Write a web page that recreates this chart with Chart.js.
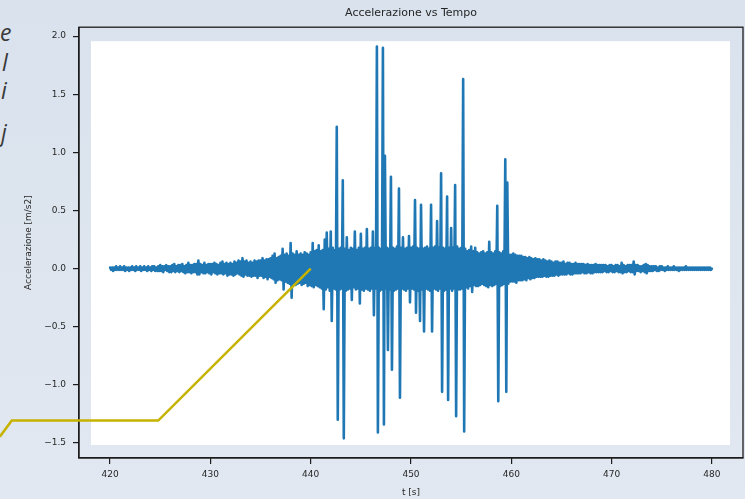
<!DOCTYPE html>
<html>
<head>
<meta charset="utf-8">
<script src="https://cdn.jsdelivr.net/npm/chart.js@4.4.1/dist/chart.umd.min.js"></script>
<style>
html,body{margin:0;padding:0;}
body{width:745px;height:499px;overflow:hidden;position:relative;background:linear-gradient(180deg,#d9e2ed 0%,#e2e8f1 100%);}
#wrap{position:absolute;left:0;top:0;width:745px;height:499px;}
.side{position:absolute;font-family:"Open Sans",sans-serif;font-style:italic;font-size:23px;line-height:23px;color:#3a3a3a;white-space:nowrap;}
</style>
</head>
<body>
<div class="side" style="left:0px;top:21px;">e</div>
<div class="side" style="left:2px;top:51px;">l</div>
<div class="side" style="left:1px;top:79px;">i</div>
<div class="side" style="left:1px;top:121px;">j</div>
<div id="wrap"><canvas id="c" width="745" height="499"></canvas></div>
<script>
// ---- data ----
const chartTitle = 'Accelerazione vs Tempo';
const xAxisTitle = 't [s]';
const yAxisTitle = 'Accelerazione [m/s2]';
const xTickValues = [420, 430, 440, 450, 460, 470, 480];
const yTickValues = [-1.5, -1.0, -0.5, 0.0, 0.5, 1.0, 1.5, 2.0];
const sampleStart = 420;   // s
const sampleStep = 0.1;    // s
// acceleration samples [m/s2], 10 per second from 420 s to 480 s
const accel = [
  0.01,-0.01,0.01,-0.02,0.01,-0.01,0.02,-0.01,0.01,-0.01,   // 420
  0.02,-0.01,0.01,-0.01,0.02,-0.02,0.01,-0.01,0.01,-0.02,   // 421
  0.01,-0.01,0.02,-0.01,0.01,-0.02,0.02,-0.01,0.01,-0.01,   // 422
  0.02,-0.02,0.01,-0.01,0.02,-0.01,0.01,-0.02,0.02,-0.01,   // 423
  0.01,-0.02,0.02,-0.01,0.02,-0.02,0.01,-0.02,0.02,-0.02,   // 424
  0.03,-0.02,0.02,-0.03,0.02,-0.01,0.03,-0.02,0.02,-0.03,   // 425
  0.02,-0.03,0.03,-0.02,0.04,-0.03,0.02,-0.02,0.03,-0.03,   // 426
  0.03,-0.02,0.04,-0.03,0.02,-0.04,0.03,-0.03,0.05,-0.03,   // 427
  0.03,-0.04,0.03,-0.03,0.04,-0.03,0.04,-0.05,0.07,-0.05,   // 428
  0.04,-0.03,0.03,-0.04,0.05,-0.04,0.03,-0.03,0.04,-0.04,   // 429
  0.04,-0.05,0.04,-0.03,0.05,-0.04,0.04,-0.05,0.03,-0.04,   // 430
  0.05,-0.04,0.06,-0.05,0.04,-0.04,0.05,-0.06,0.04,-0.05,   // 431
  0.05,-0.05,0.04,-0.06,0.06,-0.05,0.05,-0.04,0.07,-0.05,   // 432
  0.06,-0.06,0.09,-0.07,0.06,-0.05,0.07,-0.06,0.05,-0.06,   // 433
  0.06,-0.07,0.05,-0.06,0.07,-0.06,0.06,-0.08,0.07,-0.06,   // 434
  0.07,-0.06,0.09,-0.08,0.07,-0.07,0.08,-0.09,0.08,-0.07,   // 435
  0.09,-0.08,0.11,-0.09,0.13,-0.12,0.09,-0.10,0.10,-0.09,   // 436
  0.11,-0.10,0.17,-0.18,0.12,-0.11,0.13,-0.12,0.11,-0.13,   // 437
  0.22,-0.25,0.13,-0.12,0.12,-0.14,0.15,-0.13,0.12,-0.12,   // 438
  0.13,-0.14,0.12,-0.13,0.14,-0.12,0.13,-0.15,0.12,-0.14,   // 439
  0.14,-0.15,0.22,-0.16,0.15,-0.14,0.16,-0.15,0.20,-0.16,   // 440
  0.15,-0.17,0.16,-0.35,0.25,-0.18,0.31,-0.16,0.17,-0.19,   // 441
  0.32,-0.45,0.18,-0.17,0.16,-0.18,1.22,-1.30,0.17,-0.18,   // 442
  0.18,-0.17,0.76,-1.46,0.17,-0.19,0.27,-0.18,0.16,-0.17,   // 443
  0.18,-0.27,0.17,-0.16,0.32,-0.18,0.16,-0.17,0.18,-0.30,   // 444
  0.30,-0.18,0.17,-0.19,0.18,-0.17,0.34,-0.18,0.17,-0.19,   // 445
  0.18,-0.17,0.32,-0.40,0.18,-0.17,1.91,-1.41,0.18,-0.19,   // 446
  0.17,-0.18,1.90,-1.34,0.97,-0.17,0.18,-0.70,0.17,-0.18,   // 447
  0.79,-0.87,0.18,-0.19,0.17,-0.18,0.19,-0.17,0.69,-1.11,   // 448
  0.18,-0.17,0.27,-0.18,0.17,-0.19,0.18,-0.17,0.28,-0.29,   // 449
  0.18,-0.17,0.19,-0.18,0.59,-0.38,0.18,-0.19,0.17,-0.45,   // 450
  0.55,-0.18,0.17,-0.54,0.18,-0.17,0.19,-0.18,0.17,-0.19,   // 451
  0.55,-0.54,0.18,-0.17,0.19,-0.18,0.41,-0.19,0.18,-0.17,   // 452
  0.82,-1.06,0.18,-0.19,0.17,-0.18,0.62,-1.13,0.18,-0.17,   // 453
  0.35,-0.19,0.18,-0.17,0.72,-1.27,0.19,-0.18,0.17,-0.18,   // 454
  0.18,-0.17,1.63,-1.40,0.17,-0.16,0.15,-0.17,0.16,-0.15,   // 455
  0.19,-0.20,0.15,-0.14,0.18,-0.15,0.14,-0.15,0.13,-0.14,   // 456
  0.14,-0.13,0.15,-0.14,0.13,-0.15,0.14,-0.16,0.23,-0.14,   // 457
  0.14,-0.15,0.13,-0.14,0.15,-0.13,0.54,-1.14,0.14,-0.15,   // 458
  0.13,-0.14,0.15,-0.13,0.94,-1.06,0.74,-0.13,0.12,-0.11,   // 459
  0.12,-0.11,0.13,-0.11,0.12,-0.12,0.11,-0.10,0.11,-0.10,   // 460
  0.11,-0.10,0.10,-0.09,0.10,-0.10,0.09,-0.08,0.10,-0.09,   // 461
  0.09,-0.08,0.08,-0.08,0.09,-0.07,0.08,-0.07,0.08,-0.07,   // 462
  0.07,-0.07,0.08,-0.06,0.07,-0.07,0.06,-0.07,0.07,-0.06,   // 463
  0.06,-0.06,0.05,-0.06,0.06,-0.05,0.06,-0.06,0.05,-0.05,   // 464
  0.05,-0.05,0.06,-0.05,0.04,-0.05,0.05,-0.04,0.05,-0.05,   // 465
  0.04,-0.05,0.04,-0.04,0.05,-0.04,0.04,-0.04,0.04,-0.04,   // 466
  0.04,-0.03,0.04,-0.04,0.03,-0.04,0.04,-0.03,0.03,-0.04,   // 467
  0.03,-0.04,0.03,-0.03,0.04,-0.03,0.03,-0.03,0.03,-0.03,   // 468
  0.03,-0.03,0.03,-0.02,0.03,-0.03,0.02,-0.03,0.03,-0.02,   // 469
  0.03,-0.03,0.02,-0.03,0.03,-0.02,0.03,-0.03,0.02,-0.03,   // 470
  0.05,-0.04,0.03,-0.03,0.02,-0.03,0.03,-0.02,0.03,-0.03,   // 471
  0.03,-0.03,0.06,-0.05,0.03,-0.02,0.03,-0.02,0.02,-0.03,   // 472
  0.02,-0.02,0.03,-0.03,0.04,-0.04,0.03,-0.02,0.02,-0.02,   // 473
  0.02,-0.02,0.02,-0.01,0.02,-0.02,0.01,-0.02,0.02,-0.01,   // 474
  0.02,-0.01,0.01,-0.02,0.01,-0.01,0.02,-0.01,0.01,-0.01,   // 475
  0.01,-0.01,0.02,-0.01,0.01,-0.01,0.01,-0.02,0.01,-0.01,   // 476
  0.01,-0.01,0.01,-0.01,0.02,-0.01,0.01,-0.01,0.01,-0.01,   // 477
  0.01,-0.01,0.01,-0.01,0.01,-0.01,0.01,-0.01,0.01,-0.01,   // 478
  0.01,-0.01,0.01,-0.01,0.01,-0.01,0.01,-0.01,0.01,-0.01,   // 479
  0.00                                                       // 480
];
// slide callout connector (yellow), in data units, from its tip outwards
const calloutX = [440.0, 424.8, 410.2, 409.0];
const calloutY = [0.0, -1.307, -1.307, -1.445];

// ---- chart ----
const signalPoints = accel.map((v, i) => ({x: +(sampleStart + i * sampleStep).toFixed(1), y: v}));
const calloutPoints = calloutX.map((x, i) => ({x: x, y: calloutY[i]}));

const textColor = '#262626';
const axisColor = '#1c1c1c';
const fontFam = '"DejaVu Sans", sans-serif';

const framePlugin = {
  id: 'frame',
  beforeDraw(chart) {
    const {ctx, chartArea: a} = chart;
    ctx.save();
    ctx.fillStyle = '#ffffff';
    ctx.fillRect(a.left + 12, a.top + 14, a.width - 25, a.height - 27);
    ctx.restore();
  },
  beforeDatasetsDraw(chart) {
    const {ctx, chartArea: a} = chart;
    ctx.save();
    ctx.strokeStyle = axisColor;
    ctx.lineWidth = 1.3;
    ctx.strokeRect(a.left, a.top, a.width, a.height);
    ctx.restore();
  }
};

const fmtY = v => (v < 0 ? '\u2212' : '') + Math.abs(v).toFixed(1);

new Chart(document.getElementById('c'), {
  type: 'line',
  data: {
    datasets: [
      {
        label: 'callout',
        data: calloutPoints,
        borderColor: '#c6b300',
        borderWidth: 2.6,
        pointRadius: 0,
        tension: 0,
        clip: false
      },
      {
        label: 'Accelerazione',
        data: signalPoints,
        borderColor: '#1f77b4',
        borderWidth: 2.6,
        pointRadius: 0,
        tension: 0,
        borderJoinStyle: 'round',
        borderCapStyle: 'round'
      }
    ]
  },
  options: {
    responsive: false,
    animation: false,
    layout: {padding: {left: 0, right: 2, top: 0, bottom: 0}},
    plugins: {
      legend: {display: false},
      tooltip: {enabled: false},
      title: {
        display: true,
        text: chartTitle,
        fullSize: false,
        color: textColor,
        font: {family: fontFam, size: 11, weight: 'normal', lineHeight: 1.2},
        padding: {top: 7, bottom: 7}
      }
    },
    scales: {
      x: {
        type: 'linear',
        min: 416.9,
        max: 483.1,
        afterBuildTicks: s => { s.ticks = xTickValues.map(v => ({value: v})); },
        afterFit: s => { s.height = 41; },
        grid: {drawOnChartArea: false, drawTicks: true, tickLength: 6, color: axisColor, lineWidth: 1.2},
        border: {display: true, color: axisColor, width: 1.3},
        ticks: {padding: 5, color: textColor, font: {family: fontFam, size: 9}, maxRotation: 0, autoSkip: false, callback: v => String(v)},
        title: {display: true, text: xAxisTitle, color: textColor, font: {family: fontFam, size: 9}, padding: {top: 0, bottom: 1}}
      },
      y: {
        type: 'linear',
        min: -1.629,
        max: 2.077,
        afterBuildTicks: s => { s.ticks = yTickValues.map(v => ({value: v})); },
        afterFit: s => { s.width = 79; },
        grid: {drawOnChartArea: false, drawTicks: true, tickLength: 6, color: axisColor, lineWidth: 1.2},
        border: {display: true, color: axisColor, width: 1.3},
        ticks: {padding: 7, color: textColor, font: {family: fontFam, size: 9}, autoSkip: false, callback: v => fmtY(v)},
        title: {display: true, text: yAxisTitle, color: textColor, font: {family: fontFam, size: 9}, padding: {top: 23, bottom: 0}}
      }
    }
  },
  plugins: [framePlugin]
});
</script>
</body>
</html>
